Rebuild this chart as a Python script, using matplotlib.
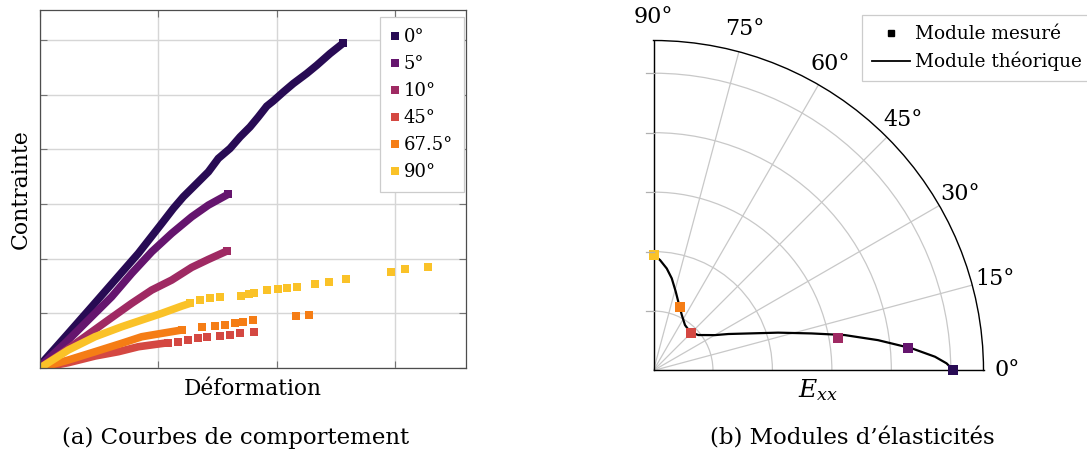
import numpy as np
import matplotlib
matplotlib.use('Agg')
import matplotlib.pyplot as plt
from matplotlib.lines import Line2D

plt.rcParams['font.family'] = ['DejaVu Serif']
plt.rcParams['mathtext.fontset'] = 'dejavuserif'

# --- (a) stress-strain curves (grid-step units)
angles = ['0°', '5°', '10°', '45°', '67.5°', '90°']
colors = ['#280b54', '#65156e', '#9f2a63', '#d44842', '#f57d15', '#fac228']

eps_0 = [0, 0.014, 0.239, 0.437, 0.634, 0.831, 1.029, 1.127, 1.211, 1.325, 1.423, 1.507,
         1.606, 1.691, 1.775, 1.845, 1.916, 1.972, 2.057, 2.141, 2.254, 2.339, 2.451, 2.564]
sig_0 = [0, 0.086, 0.634, 1.121, 1.609, 2.097, 2.645, 2.920, 3.132, 3.377, 3.589, 3.834,
         4.017, 4.229, 4.411, 4.594, 4.790, 4.887, 5.051, 5.205, 5.388, 5.539, 5.753, 5.947]
eps_5 = [0, 0.014, 0.211, 0.408, 0.606, 0.775, 0.944, 1.113, 1.282, 1.423, 1.592]
sig_5 = [0, 0.055, 0.452, 0.878, 1.304, 1.731, 2.126, 2.463, 2.766, 2.980, 3.181]
eps_10 = [0, 0.014, 0.183, 0.380, 0.577, 0.775, 0.944, 1.113, 1.282, 1.423, 1.578]
sig_10 = [0, 0.024, 0.269, 0.572, 0.878, 1.183, 1.426, 1.609, 1.841, 1.987, 2.139]
eps_45 = [0, 0.239, 0.465, 0.662, 0.831, 1.000, 1.085, 1.169, 1.254, 1.338, 1.409,
          1.522, 1.606, 1.691, 1.811]
sig_45 = [0, 0.097, 0.219, 0.298, 0.389, 0.439, 0.463, 0.481, 0.512, 0.543, 0.561,
          0.585, 0.603, 0.634, 0.664]
eps_67 = [0, 0.239, 0.465, 0.691, 0.860, 1.029, 1.198, 1.367, 1.479, 1.564, 1.646,
          1.719, 1.803, 2.164, 2.274]
sig_67 = [0, 0.146, 0.298, 0.452, 0.572, 0.634, 0.695, 0.755, 0.773, 0.786, 0.817,
          0.835, 0.878, 0.945, 0.963]
eps_90 = [0, 0.239, 0.465, 0.691, 0.860, 1.029, 1.198, 1.268, 1.352, 1.437, 1.522,
          1.699, 1.767, 1.809, 1.916, 2.014, 2.085, 2.170, 2.327, 2.443, 2.587,
          2.967, 3.085, 3.277]
sig_90 = [0, 0.329, 0.572, 0.755, 0.878, 1.000, 1.133, 1.183, 1.243, 1.274, 1.303,
          1.322, 1.347, 1.371, 1.420, 1.444, 1.468, 1.486, 1.530, 1.578, 1.622,
          1.761, 1.810, 1.852]

eps = [eps_0, eps_5, eps_10, eps_45, eps_67, eps_90]
sig = [sig_0, sig_5, sig_10, sig_45, sig_67, sig_90]

# --- (b) elastic moduli (polar)
theta_meas = [0, 5, 10, 45, 67.5, 90]
E_meas = [50.4, 43.0, 31.5, 9.0, 11.5, 19.5]
theta_th = [0.1, 1.4, 2.8, 4.9, 7.7, 10.5, 13.2, 16.9, 26.0, 30.0, 34.6, 38.4, 46.7,
            55.3, 63.1, 70.2, 74.3, 78.8, 82.6, 86.6, 89.75, 90]
E_th = [50.4, 49.3, 47.4, 43.6, 38.1, 32.7, 27.3, 21.9, 14.0, 11.9, 10.5, 9.6, 8.95,
        9.3, 10.5, 12.3, 13.8, 15.8, 17.3, 18.6, 19.4, 19.5]
r_grid = [10, 20, 30, 40, 50]

W, H = 1087, 455
fig = plt.figure(figsize=(W / 100, H / 100), dpi=100)

# ---------------- left panel
ax = fig.add_axes([40 / W, 1 - 368 / H, 426 / W, 358 / H])
dense_end = [9, 9, 9, 1.1, 1.2, 1.27]
for x, y, c, lab, xd in zip(eps, sig, colors, angles, dense_end):
    x = np.array(x)
    y = np.array(y)
    m = x <= xd
    ax.plot(x[m], y[m], color=c, lw=5.5, solid_capstyle='butt', solid_joinstyle='miter')
    # separate squares where the points are sparse, plus the end of the dense band
    mk = ~m
    mk[np.nonzero(m)[0][-1]] = True
    ax.plot(x[mk], y[mk], ls='', marker='s', ms=5.4, mew=0, color=c)
ax.set_xlim(0, 3.6)
ax.set_ylim(0, 6.55)
ax.set_xticks([0, 1, 2, 3])
ax.set_yticks([0, 1, 2, 3, 4, 5, 6])
ax.grid(True, color='#d6d6d6', lw=1)
ax.set_axisbelow(True)
ax.tick_params(direction='in', length=5, color='0.45', top=True, right=True,
               labelleft=False, labelbottom=False)
for s in ax.spines.values():
    s.set_color('0.3')
    s.set_linewidth(0.9)
ax.set_xlabel('Déformation', fontsize=15.6, labelpad=7)
ax.set_ylabel('Contrainte', fontsize=15.8, labelpad=6)

handles = [Line2D([], [], ls='', marker='s', ms=5.5, mew=0, color=c) for c in colors]
leg = ax.legend(handles, angles, loc='upper left', bbox_to_anchor=(380 / W, 1 - 17 / H),
                bbox_transform=fig.transFigure, borderaxespad=0, fontsize=13,
                handlelength=0.5, handletextpad=0.2, labelspacing=0.5, borderpad=0.6,
                fancybox=False, framealpha=1, edgecolor='#cccccc')
leg.get_frame().set_linewidth(0.9)

# ---------------- right panel (polar quarter)
R = 330
pax = fig.add_axes([653.5 / W, (H - 370.5) / H, R / W, R / H], projection='polar')
pax.set_thetamin(0)
pax.set_thetamax(90)
pax.set_rlim(0, 55.5)
pax.set_rticks(r_grid)
pax.set_yticklabels([])
pax.set_thetagrids([0, 15, 30, 45, 60, 75, 90],
                   labels=['0°', '15°', '30°', '45°', '60°', '75°', '90°'], fontsize=16)
pax.grid(True, color='#c8c8c8', lw=0.9)
pax.tick_params(axis='x', direction='out', length=9, width=0.9, color='#c8c8c8', pad=1)
pax.tick_params(axis='y', left=False, right=False)
for s in pax.spines.values():
    s.set_color('black')
    s.set_linewidth(1.0)

th = np.deg2rad(theta_th)
pax.plot(th, E_th, color='black', lw=1.6, zorder=3)
for t, e, c in zip(theta_meas, E_meas, colors):
    pax.plot(np.deg2rad(t), e, ls='', marker='s', ms=6.8, mew=0, color=c, zorder=4,
             clip_on=False)

# short radial ticks sticking out to the left of the 90° axis
fig.canvas.draw()
for r in r_grid:
    px, py = pax.transData.transform((np.pi / 2, r))
    fig.add_artist(Line2D([px - 8, px], [py, py], transform=None, color='#b0b0b0', lw=0.9))

fig.text(818 / W, 1 - 390 / H, r'$E_{xx}$', fontsize=18, ha='center', va='center')

ph = [Line2D([], [], ls='', marker='s', ms=5, color='black'),
      Line2D([], [], color='black', lw=1.3)]
pleg = fig.legend(ph, ['Module mesuré', 'Module théorique'], loc='upper left',
                  bbox_to_anchor=(862 / W, 1 - 15 / H), borderaxespad=0, fontsize=13.3,
                  handlelength=2.05, handletextpad=0.27, labelspacing=0.45,
                  borderpad=0.55, fancybox=False, framealpha=1, edgecolor='#cccccc')
pleg.get_frame().set_linewidth(0.9)

# captions
fig.text(236 / W, 1 - 438 / H, '(a) Courbes de comportement', fontsize=16.5,
         ha='center', va='center')
fig.text(852 / W, 1 - 438 / H, '(b) Modules d’élasticités', fontsize=16.5,
         ha='center', va='center')

fig.savefig('out.png', dpi=100)
